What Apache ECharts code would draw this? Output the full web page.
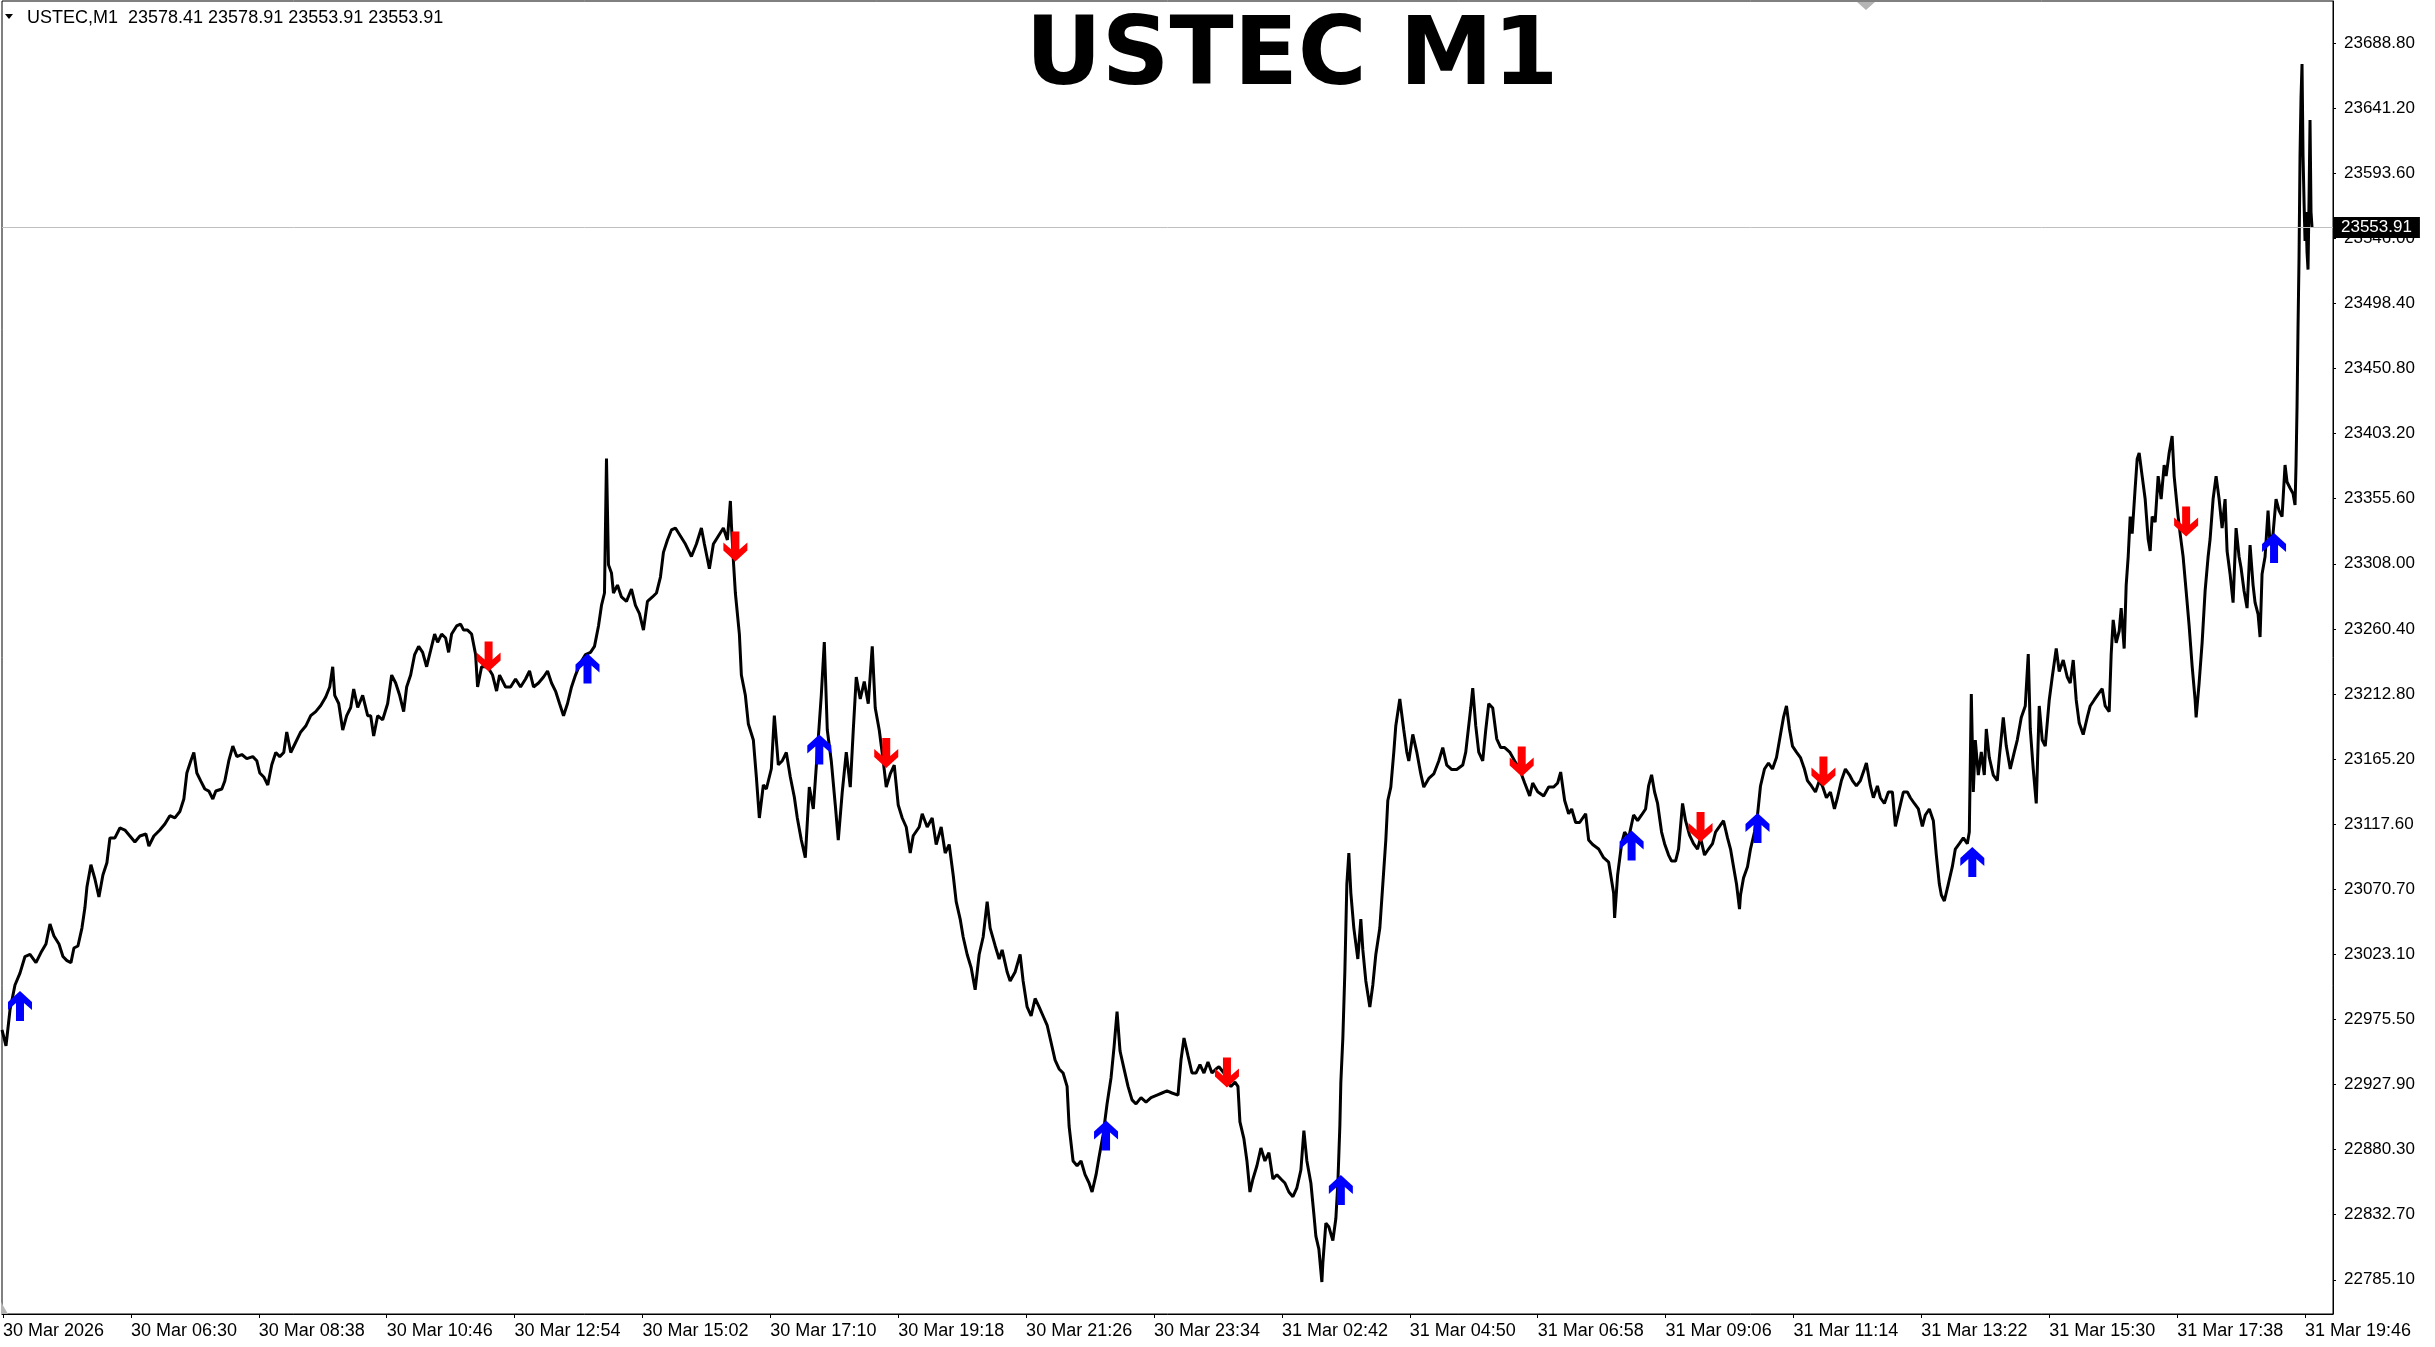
<!DOCTYPE html>
<html>
<head>
<meta charset="utf-8">
<title>USTEC M1</title>
<script src="https://cdn.jsdelivr.net/npm/echarts@6/dist/echarts.min.js"></script>
<style>
  html, body { margin: 0; padding: 0; background: #fff; }
  #chart { width: 2435px; height: 1347px; }
</style>
</head>
<body>
<div id="chart"></div>
<script>
// header / symbol info
const HEADER_TEXT = 'USTEC,M1  23578.41 23578.91 23553.91 23553.91';
const LAST_PRICE = 23553.91;

// time axis: bar index -> label
const X_TICK_BARS = [1, 129, 257, 385, 513, 641, 769, 897, 1025, 1153, 1281, 1409, 1537, 1665, 1793, 1921, 2049, 2177, 2305];
const X_LABELS = ['30 Mar 2026', '30 Mar 06:30', '30 Mar 08:38', '30 Mar 10:46', '30 Mar 12:54', '30 Mar 15:02',
  '30 Mar 17:10', '30 Mar 19:18', '30 Mar 21:26', '30 Mar 23:34', '31 Mar 02:42', '31 Mar 04:50',
  '31 Mar 06:58', '31 Mar 09:06', '31 Mar 11:14', '31 Mar 13:22', '31 Mar 15:30', '31 Mar 17:38', '31 Mar 19:46'];

// price axis
const Y_MIN = 22759.4;
const Y_MAX = 23719.5;
const Y_TICKS = [23688.8, 23641.2, 23593.6, 23546.0, 23498.4, 23450.8, 23403.2, 23355.6, 23308.0, 23260.4,
  23212.8, 23165.2, 23117.6, 23070.0, 23022.4, 22974.8, 22927.2, 22879.6, 22832.0, 22784.4];
const Y_LABELS = ['23688.80', '23641.20', '23593.60', '23546.00', '23498.40', '23450.80', '23403.20', '23355.60',
  '23308.00', '23260.40', '23212.80', '23165.20', '23117.60', '23070.70', '23023.10', '22975.50', '22927.90',
  '22880.30', '22832.70', '22785.10'];

// price path [bar, price], 30 Mar session
const PRICE_30MAR = [[0,22967.1],[4,22955.4],[8,22981.7],[13,23000.0],[18,23008.7],[23,23020.8],[28,23022.3],[34,23016.3],[39,23023.7],[44,23029.9],[48,23044.6],[52,23035.8],[57,23029.9],[61,23020.8],[65,23017.8],[69,23016.3],[72,23027.0],[76,23028.5],[80,23041.6],[83,23056.6],[85,23071.6],[89,23087.9],[93,23077.5],[97,23064.3],[101,23080.4],[105,23089.4],[108,23107.5],[113,23107.5],[118,23114.8],[123,23113.3],[128,23108.9],[133,23104.5],[138,23108.9],[144,23110.4],[147,23101.6],[152,23108.9],[158,23113.3],[163,23117.7],[168,23123.8],[173,23122.2],[178,23126.8],[182,23136.0],[185,23155.0],[189,23164.0],[192,23170.0],[195,23155.0],[199,23149.1],[203,23143.3],[207,23141.8],[211,23136.0],[214,23141.8],[220,23143.3],[223,23149.1],[227,23164.0],[231,23174.7],[235,23167.0],[240,23168.5],[245,23165.5],[251,23167.0],[255,23164.0],[258,23155.0],[262,23152.1],[266,23146.2],[270,23161.0],[274,23170.0],[278,23167.0],[282,23170.0],[285,23185.0],[289,23170.0],[293,23176.0],[299,23185.0],[304,23189.3],[309,23196.9],[314,23199.9],[319,23204.3],[324,23210.6],[328,23217.9],[331,23232.7],[333,23211.8],[337,23205.8],[341,23186.4],[345,23196.9],[349,23202.9],[352,23216.4],[356,23202.9],[361,23211.8],[366,23196.9],[369,23196.9],[372,23182.0],[376,23196.9],[381,23193.9],[386,23205.8],[390,23226.6],[394,23220.8],[398,23211.8],[402,23199.9],[405,23217.9],[409,23226.6],[413,23241.6],[417,23247.6],[421,23243.2],[425,23232.7],[429,23244.6],[433,23256.6],[436,23250.6],[440,23256.6],[444,23253.7],[447,23243.2],[450,23256.6],[455,23262.5],[459,23263.9],[462,23259.5],[466,23259.5],[470,23256.6],[474,23241.6],[476,23217.9],[480,23232.7],[486,23232.7],[491,23226.6],[495,23214.9],[498,23226.6],[504,23217.9],[509,23217.9],[514,23223.7],[519,23217.9],[524,23223.7],[528,23229.6],[532,23217.9],[537,23220.8],[542,23225.2],[546,23229.6],[550,23220.8],[554,23214.9],[558,23205.8],[562,23196.9],[566,23205.8],[570,23217.9],[574,23226.6],[579,23235.6],[584,23241.6],[589,23243.2],[593,23247.6],[597,23262.5],[600,23277.5],[603,23286.6],[605,23384.9],[607,23307.3],[610,23301.3],[612,23286.6],[616,23292.4],[620,23283.7],[625,23280.5],[630,23289.5],[634,23277.5],[638,23271.5],[642,23259.5],[646,23280.5],[651,23283.7],[655,23286.6],[659,23298.3],[662,23316.3],[666,23325.4],[670,23332.7],[674,23334.1],[679,23328.3],[684,23322.4],[690,23313.3],[695,23322.4],[700,23334.1],[703,23322.4],[708,23304.3],[712,23322.4],[717,23328.3],[722,23334.1],[726,23325.4],[729,23353.9],[730,23337.1],[732,23310.3],[734,23286.6],[738,23256.6],[740,23226.6],[744,23211.8],[747,23190.8],[752,23179.1],[755,23152.1],[758,23122.1],[762,23146.2],[765,23143.3],[770,23158.1],[773,23196.9],[777,23161.0],[781,23164.0],[785,23170.0],[789,23152.1],[793,23137.4],[796,23122.1],
  [800,23106.0],[804,23093.1],[808,23144.7],[812,23128.7],[816,23170.3],[820,23212.0],[823,23250.8],[826,23186.4],[830,23163.8],[834,23131.6],[837,23106.0],[841,23141.3],[845,23170.3],[849,23144.7],[852,23186.4],[855,23225.2],[859,23209.1],[863,23221.8],[867,23205.7],[871,23247.6],[874,23202.5],[878,23186.4],[882,23163.8],[885,23144.7],[889,23154.3],[893,23160.8],[897,23131.6],[901,23122.1],[905,23115.5],[909,23096.5],[912,23109.1],[918,23115.5],[921,23125.2],[926,23115.5],[931,23122.1],[935,23102.7],[940,23115.5],[944,23096.5],[948,23102.7],[952,23080.4],[955,23060.9],[959,23048.2],[962,23035.1],[966,23022.3],[970,23012.6],[974,22996.5],[978,23022.3],[982,23035.1],[986,23060.9],[989,23041.6],[994,23028.7],[998,23019.0],[1001,23025.6],[1006,23009.5],[1009,23002.9],[1014,23009.5],[1019,23022.3],[1022,23002.9],[1026,22983.9],[1030,22977.3],[1034,22990.1],[1038,22983.9],[1042,22977.3],[1046,22970.7],[1050,22957.9],[1054,22945.1],[1058,22938.6],[1062,22935.6],[1066,22925.8],[1068,22896.9],[1072,22871.3],[1076,22867.8],[1080,22871.3],[1084,22861.3],[1088,22855.2],[1091,22848.6],[1095,22861.3],[1098,22874.2],[1102,22890.3],[1106,22913.0],[1110,22932.2],[1113,22954.6],[1116,22980.5],[1119,22951.7],[1123,22938.6],[1127,22925.8],[1131,22916.0],[1135,22913.0],[1140,22917.6],[1145,22914.4],[1150,22917.6],[1156,22919.5],[1161,22921.0],[1166,22922.5],[1171,22921.0],[1177,22919.5]];

// 31 Mar session
const PRICE_31MAR = [[1180,22945.1],[1183,22961.2],[1187,22948.3],[1191,22935.6],[1195,22935.6],[1199,22941.8],[1203,22935.6],[1207,22943.7],[1211,22935.6],[1215,22938.6],[1218,22940.2],[1223,22935.6],[1226,22929.0],[1230,22925.8],[1234,22929.0],[1237,22925.8],[1239,22899.9],[1243,22887.4],[1246,22871.3],[1249,22848.6],[1252,22858.1],[1256,22867.8],[1260,22880.8],[1264,22871.3],[1268,22877.4],[1272,22858.1],[1276,22861.3],[1280,22858.1],[1284,22855.2],[1288,22848.6],[1292,22845.2],[1296,22851.7],[1300,22864.7],[1303,22893.5],[1306,22871.3],[1310,22855.2],[1313,22832.5],[1315,22816.4],[1318,22806.9],[1321,22782.8],[1322,22797.0],[1325,22825.9],[1328,22823.0],[1332,22813.1],[1335,22829.2],[1337,22855.2],[1339,22896.9],[1340,22929.0],[1342,22961.2],[1344,23009.5],[1346,23073.8],[1348,23096.5],[1350,23067.2],[1353,23041.6],[1357,23019.0],[1360,23048.2],[1362,23025.6],[1365,23002.9],[1369,22983.9],[1372,23000.0],[1375,23022.3],[1379,23041.6],[1382,23073.8],[1385,23106.0],[1387,23134.9],[1390,23144.7],[1393,23170.3],[1395,23189.6],[1399,23209.1],[1403,23186.4],[1406,23170.3],[1408,23163.8],[1412,23183.2],[1416,23170.3],[1420,23154.3],[1423,23144.7],[1428,23151.0],[1433,23154.3],[1438,23163.8],[1442,23173.6],[1446,23160.8],[1451,23157.5],[1456,23157.5],[1462,23160.8],[1465,23170.3],[1470,23202.5],[1472,23217.1],[1475,23189.6],[1478,23170.3],[1482,23163.8],[1485,23186.4],[1488,23205.7],[1492,23202.5],[1496,23180.0],[1500,23173.6],[1504,23173.6],[1509,23170.3],[1514,23163.8],[1519,23157.5],[1524,23147.7],[1529,23138.2],[1532,23147.7],[1537,23141.3],[1543,23138.2],[1548,23144.7],[1553,23144.7],[1557,23147.7],[1560,23155.7],[1564,23134.9],[1568,23125.2],[1571,23128.7],[1575,23118.8],[1579,23118.8],[1585,23125.2],[1588,23106.0],[1592,23102.7],[1598,23099.4],[1603,23093.1],[1608,23089.9],[1613,23067.2],[1614,23049.0],[1617,23080.4],[1621,23103.3],
  [1624,23111.8],[1628,23107.5],[1633,23124.3],[1637,23120.1],[1641,23124.3],[1645,23128.7],[1648,23145.5],[1651,23153.7],[1654,23141.1],[1657,23132.7],[1661,23111.8],[1664,23103.3],[1668,23095.0],[1671,23090.6],[1675,23090.6],[1678,23099.4],[1682,23132.7],[1685,23120.1],[1689,23109.6],[1693,23103.3],[1697,23099.4],[1700,23107.5],[1704,23095.0],[1708,23099.4],[1712,23103.3],[1715,23111.8],[1719,23115.9],[1723,23120.1],[1727,23107.5],[1730,23099.4],[1733,23086.5],[1736,23073.8],[1739,23055.5],[1740,23065.8],[1743,23078.2],[1747,23086.5],[1750,23099.4],[1754,23111.8],[1757,23124.3],[1760,23145.5],[1764,23157.9],[1768,23162.3],[1772,23157.9],[1776,23166.3],[1780,23183.1],[1783,23195.6],[1786,23204.0],[1789,23187.2],[1792,23174.7],[1796,23170.3],[1800,23166.3],[1804,23157.9],[1807,23149.5],[1811,23145.5],[1815,23141.1],[1819,23149.5],[1822,23145.5],[1826,23136.9],[1830,23141.1],[1834,23128.7],[1837,23136.9],[1841,23149.5],[1845,23157.9],[1849,23153.7],[1852,23149.5],[1856,23145.5],[1860,23149.5],[1864,23157.9],[1866,23162.3],[1870,23145.5],[1873,23136.9],[1877,23145.5],[1880,23136.9],[1884,23132.7],[1888,23141.1],[1892,23141.1],[1895,23115.9],[1899,23128.7],[1903,23141.1],[1907,23141.1],[1910,23136.9],[1914,23132.7],[1918,23128.7],[1922,23115.9],[1925,23124.3],[1929,23128.7],[1933,23120.1],[1936,23095.0],[1939,23073.8],[1941,23065.8],[1944,23061.4],[1948,23073.8],[1952,23086.5],[1955,23099.4],[1959,23103.3],[1963,23107.5],[1967,23103.3],[1969,23111.8],[1971,23212.7],[1973,23141.1],[1975,23179.1],[1978,23153.5],[1981,23170.3],[1984,23153.5],[1986,23187.2],[1989,23166.3],[1993,23153.5],[1997,23149.5],[1999,23166.3],[2003,23195.6],[2006,23174.7],[2010,23157.9],[2014,23170.3],[2017,23179.1],[2021,23195.6],[2025,23204.0],[2028,23242.0],[2030,23187.2],[2033,23157.9],[2036,23132.7],[2039,23204.0],[2042,23179.1],[2045,23174.7],[2049,23208.4],[2052,23225.2],[2056,23246.0],[2059,23229.2],[2063,23237.6],[2067,23225.2],[2070,23220.8],[2073,23237.6],[2076,23208.4],[2079,23191.5],[2083,23183.1],[2087,23195.6],[2090,23204.0],[2094,23208.4],[2098,23212.7],[2102,23216.6],[2105,23204.0],[2109,23199.9],[2111,23242.0],[2113,23266.9],[2116,23250.2],[2119,23258.8],[2121,23275.6],[2124,23246.0],[2126,23292.4],[2128,23313.1],[2130,23342.5],[2132,23330.0],[2135,23363.5],[2137,23384.6],[2139,23389.0],[2142,23372.1],[2145,23355.3],[2148,23326.1],[2150,23317.3],[2152,23342.5],[2155,23338.5],[2158,23372.1],[2161,23355.3],[2164,23380.2],[2166,23372.1],[2169,23389.0],[2172,23401.4],[2174,23372.1],[2178,23342.5],[2180,23330.0],[2183,23313.1],[2186,23288.1],[2189,23262.8],[2192,23233.4],[2195,23208.4],[2196,23195.6],[2199,23220.8],[2202,23250.2],[2205,23288.1],[2208,23313.1],[2210,23326.1],[2213,23355.3],[2216,23372.1],[2219,23355.3],[2222,23334.1],[2225,23355.3],[2227,23317.3],[2230,23300.5],[2233,23279.6],[2236,23334.1],[2239,23313.1],[2241,23304.9],[2244,23288.1],[2247,23275.6],[2250,23321.7],[2253,23292.4],[2255,23279.6],[2258,23271.2],[2260,23254.4],[2262,23300.5],[2265,23313.1],[2268,23346.8],[2270,23321.7],[2273,23330.0],[2276,23355.3],[2279,23346.8],[2282,23342.5],[2285,23380.2],[2287,23367.8],[2290,23363.4],[2293,23359.4],[2295,23350.9],[2296,23380.2],[2297,23422.6],[2298,23481.1],[2299,23531.6],[2300,23606.9],[2301,23649.3],[2302,23673.4],[2303,23606.9],[2304,23573.4],[2305,23544.0],[2306,23565.2],[2307,23535.9],[2308,23523.1],[2309,23573.4],[2310,23632.5],[2311,23565.2],[2312,23553.91]];

// signal arrows [bar, price]
const BUY_SIGNALS = [[18,22984.7],[586,23231.4],[818,23172.2],[1105,22890.0],[1340,22850.1],[1631,23102.0],[1757,23114.8],[1972,23089.9],[2274,23319.5]];
const SELL_SIGNALS = [[487,23240.2],[734,23320.6],[885,23169.6],[1226,22936.0],[1521,23163.4],[1700,23115.5],[1823,23156.1],[2186,23338.9]];

const UP_ARROW = 'path://M12,0 L24,11 L24,19 L16,12 L16,30 L8,30 L8,12 L0,19 L0,11 Z';
const DOWN_ARROW = 'path://M12,30 L24,19 L24,11 L16,18 L16,0 L8,0 L8,18 L0,11 L0,19 Z';

const FONT = 'Liberation Sans';

const chart = echarts.init(document.getElementById('chart'));

const option = {
  animation: false,
  backgroundColor: '#ffffff',
  textStyle: { fontFamily: FONT },
  title: {
    text: HEADER_TEXT,
    left: 27,
    top: 9,
    padding: 0,
    textStyle: { fontSize: 18, fontWeight: 'normal', color: '#000', fontFamily: FONT }
  },
  graphic: [
    // small menu triangle in the header
    { type: 'polygon', shape: { points: [[5, 14], [13, 14], [9, 19]] }, style: { fill: '#000' } },
    // chart shift markers
    { type: 'polygon', shape: { points: [[1857, 2], [1875, 2], [1866, 10]] }, style: { fill: '#b4b4b4' } },
    { type: 'polygon', shape: { points: [[1, 1302], [1, 1314], [8, 1314]] }, style: { fill: '#b4b4b4' } },
    {
      type: 'text', x: 1292, y: 13, z: 10,
      style: {
        text: 'USTEC M1', font: 'bold 94px "DejaVu Sans"', fill: '#000',
        align: 'center', verticalAlign: 'top', textAlign: 'center', textVerticalAlign: 'top'
      }
    }
  ],
  grid: { left: 0, top: 1, width: 2333, height: 1313, show: true, borderColor: '#000', borderWidth: 1 },
  xAxis: {
    type: 'value',
    min: 0,
    max: 2333,
    axisLine: { show: true, onZero: false, lineStyle: { color: '#000', width: 1 } },
    axisTick: { show: true, customValues: X_TICK_BARS, length: 4, lineStyle: { color: '#000' } },
    axisLabel: {
      customValues: X_TICK_BARS,
      formatter: v => {
        const i = X_TICK_BARS.indexOf(Math.round(v));
        return i >= 0 ? X_LABELS[i] : '';
      },
      align: 'left',
      margin: 8,
      fontSize: 18,
      color: '#000',
      fontFamily: FONT,
      hideOverlap: false
    },
    splitLine: { show: false }
  },
  yAxis: {
    type: 'value',
    position: 'right',
    min: Y_MIN,
    max: Y_MAX,
    axisLine: { show: true, onZero: false, lineStyle: { color: '#000', width: 1 } },
    axisTick: { show: true, customValues: Y_TICKS, length: 3, lineStyle: { color: '#000' } },
    axisLabel: {
      customValues: Y_TICKS,
      formatter: v => {
        const i = Y_TICKS.findIndex(t => Math.abs(t - v) < 0.05);
        return i >= 0 ? Y_LABELS[i] : '';
      },
      margin: 11,
      padding: [4, 0, 0, 0],
      fontSize: 17,
      color: '#000',
      fontFamily: FONT,
      hideOverlap: false
    },
    splitLine: { show: false }
  },
  series: [
    {
      name: 'USTEC',
      type: 'line',
      data: PRICE_30MAR.concat(PRICE_31MAR),
      showSymbol: false,
      symbol: 'none',
      lineStyle: { color: '#000', width: 3 },
      z: 3,
      markLine: {
        silent: true,
        symbol: ['none', 'none'],
        lineStyle: { color: '#c0c0c0', width: 1, type: 'solid' },
        label: {
          show: true,
          position: 'end',
          distance: 0,
          formatter: LAST_PRICE.toFixed(2),
          color: '#fff',
          backgroundColor: '#000',
          padding: [2, 8, 2, 8],
          fontSize: 17,
          fontFamily: FONT
        },
        data: [{ yAxis: LAST_PRICE }]
      }
    },
    {
      name: 'Buy',
      type: 'scatter',
      data: BUY_SIGNALS,
      symbol: UP_ARROW,
      symbolSize: [24, 30],
      itemStyle: { color: '#0000ff', opacity: 1 },
      z: 5
    },
    {
      name: 'Sell',
      type: 'scatter',
      data: SELL_SIGNALS,
      symbol: DOWN_ARROW,
      symbolSize: [24, 30],
      itemStyle: { color: '#ff0000', opacity: 1 },
      z: 5
    }
  ]
};

chart.setOption(option);
</script>
</body>
</html>
